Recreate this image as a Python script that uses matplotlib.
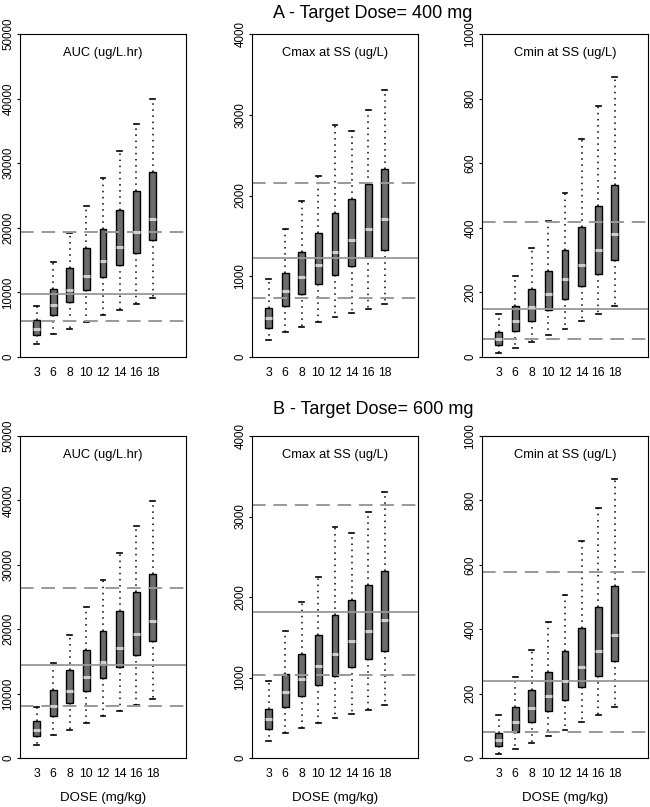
import numpy as np
import matplotlib
matplotlib.use("Agg")
import matplotlib.pyplot as plt

plt.rcParams['font.family'] = ['Liberation Sans', 'DejaVu Sans']

doses = ["3", "6", "8", "10", "12", "14", "16", "18"]

# box stats per dose: lower cap, q1, median, q3, upper cap
auc_lo = [2070, 3620, 4400, 5430, 6460, 7340, 8270, 9200]
auc_q1 = [3460, 6570, 8530, 10440, 12410, 14170, 16030, 18100]
auc_med = [4400, 8010, 10340, 12560, 14890, 17060, 19290, 21350]
auc_q3 = [5690, 10600, 13700, 16800, 19750, 22750, 25700, 28590]
auc_hi = [7860, 14740, 19130, 23420, 27660, 31900, 36040, 39970]

cmax_lo = [207, 310, 372, 434, 496, 546, 600, 654]
cmax_q1 = [364, 629, 774, 902, 1018, 1125, 1233, 1324]
cmax_med = [488, 815, 985, 1138, 1295, 1448, 1580, 1713]
cmax_q3 = [612, 1042, 1295, 1530, 1779, 1957, 2143, 2325]
cmax_hi = [960, 1580, 1932, 2246, 2867, 2800, 3061, 3309]

cmin_lo = [12, 28, 47, 67, 88, 111, 134, 158]
cmin_q1 = [36, 80, 112, 147, 181, 219, 256, 300]
cmin_med = [57, 111, 155, 194, 240, 284, 331, 381]
cmin_q3 = [78, 158, 212, 267, 331, 403, 468, 533]
cmin_hi = [132, 252, 336, 421, 507, 674, 776, 866]

# target lines (low, target, high) for 400 mg and 600 mg
auc_ref = {"A": [5530, 9720, 19290], "B": [8120, 14430, 26320]}
cmax_ref = {"A": [736, 1229, 2155], "B": [1030, 1816, 3144]}
cmin_ref = {"A": [55, 149, 417], "B": [82, 239, 578]}

panels = [
    ("AUC (ug/L.hr)", [auc_lo, auc_q1, auc_med, auc_q3, auc_hi], auc_ref, 50000, 10000),
    ("Cmax at SS (ug/L)", [cmax_lo, cmax_q1, cmax_med, cmax_q3, cmax_hi], cmax_ref, 4000, 1000),
    ("Cmin at SS (ug/L)", [cmin_lo, cmin_q1, cmin_med, cmin_q3, cmin_hi], cmin_ref, 1000, 200),
]

titles = {"A": "A - Target Dose= 400 mg", "B": "B - Target Dose= 600 mg"}

fig = plt.figure(figsize=(6.5, 8.07), dpi=100)
lefts = [20 / 650, 252 / 650, 482 / 650]
w = 166 / 650
rows = {"A": (1 - 357 / 807, 323 / 807), "B": (1 - 758 / 807, 322 / 807)}

pos = np.arange(1, len(doses) + 1)

for key in ["A", "B"]:
    bottom, h = rows[key]
    for left, (label, st, ref, ymax, step) in zip(lefts, panels):
        ax = fig.add_axes([left, bottom, w, h])
        stats = []
        for i in range(len(doses)):
            stats.append(dict(whislo=st[0][i], q1=st[1][i], med=st[2][i],
                              q3=st[3][i], whishi=st[4][i]))
        ax.bxp(stats, positions=pos, widths=0.4, patch_artist=True,
               showfliers=False, capwidths=0.3,
               boxprops=dict(facecolor="#6b6b6b", edgecolor="black", linewidth=1),
               medianprops=dict(color="#cfcfcf", linewidth=2.2),
               whiskerprops=dict(color="black", linestyle=(0, (1, 3)), linewidth=1.1),
               capprops=dict(color="black", linewidth=1.2))
        lo, mid, hi = ref[key]
        ax.axhline(lo, color="#999999", lw=1.4, dashes=(7, 4))
        ax.axhline(hi, color="#999999", lw=1.4, dashes=(7, 4))
        ax.axhline(mid, color="#999999", lw=1.3)
        ax.set_xlim(0, 10)
        ax.set_ylim(0, ymax)
        ax.set_yticks(np.arange(0, ymax + 1, step))
        ax.set_xticks(pos)
        ax.set_xticklabels(doses)
        ax.tick_params(axis="x", length=0, pad=7, labelsize=8.8)
        ax.tick_params(axis="y", length=2, width=0.8, pad=2, labelsize=8.3)
        for t in ax.get_yticklabels():
            t.set_rotation(90)
            t.set_va("center")
        ax.text(0.5, 0.94, label, transform=ax.transAxes, ha="center",
                va="center", fontsize=9.3)
        if key == "B":
            ax.set_xlabel("DOSE (mg/kg)", fontsize=9.5, labelpad=9)
    fig.text(373 / 650, 1 - (14 if key == "A" else 409) / 807, titles[key],
             ha="center", va="center", fontsize=13)

fig.savefig("out.png", dpi=100)
